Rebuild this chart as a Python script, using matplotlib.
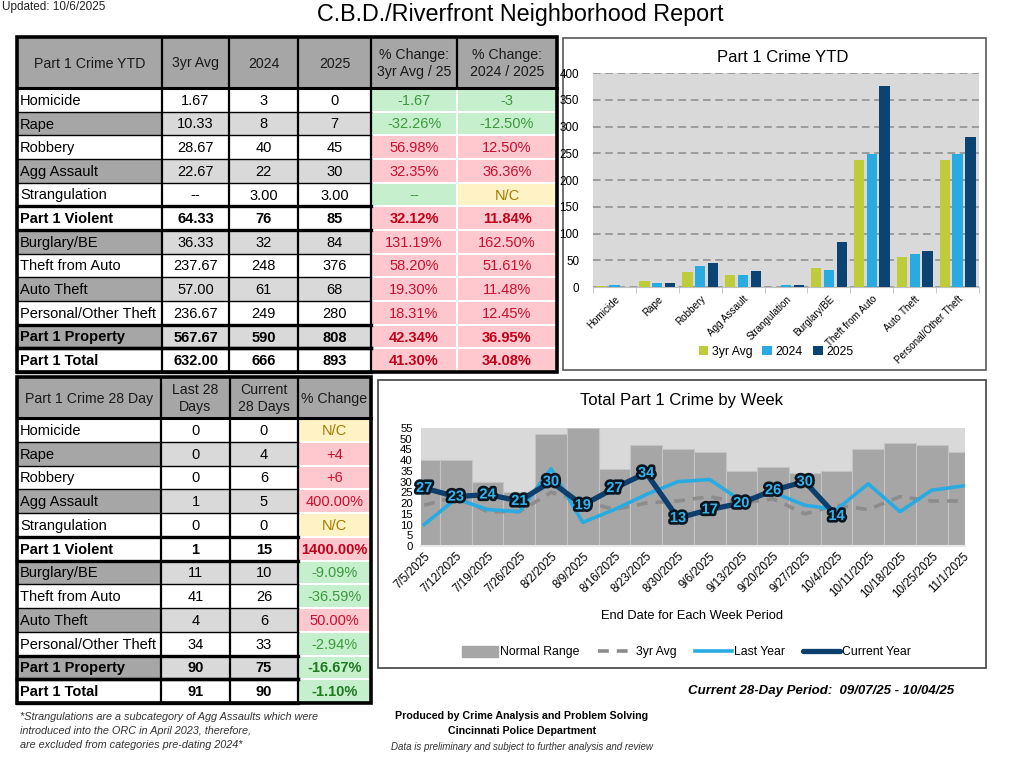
import matplotlib
matplotlib.use('Agg')
import matplotlib.pyplot as plt
import matplotlib.patheffects as pe
from matplotlib.patches import Rectangle, Patch
from matplotlib.lines import Line2D
from matplotlib import font_manager
import numpy as np

# narrow font for tables / ticks if installed
installed = {f.name for f in font_manager.fontManager.ttflist}
NARROW = 'Liberation Sans Narrow' if 'Liberation Sans Narrow' in installed else 'Liberation Sans'
plt.rcParams['font.family'] = ['Liberation Sans', 'DejaVu Sans']

# ---------------- data ----------------
crime_rows = ['Homicide', 'Rape', 'Robbery', 'Agg Assault', 'Strangulation', 'Part 1 Violent',
              'Burglary/BE', 'Theft from Auto', 'Auto Theft', 'Personal/Other Theft',
              'Part 1 Property', 'Part 1 Total']
bold_rows = ['Part 1 Violent', 'Part 1 Property', 'Part 1 Total']
shaded_rows = ['Rape', 'Agg Assault', 'Burglary/BE', 'Auto Theft', 'Part 1 Property']

# YTD table
ytd_header = ['Part 1 Crime YTD', '3yr Avg', '2024', '2025', '% Change:\n3yr Avg / 25', '% Change:\n2024 / 2025']
ytd_3yr = ['1.67', '10.33', '28.67', '22.67', '--', '64.33', '36.33', '237.67', '57.00', '236.67', '567.67', '632.00']
ytd_2024 = ['3', '8', '40', '22', '3.00', '76', '32', '248', '61', '249', '590', '666']
ytd_2025 = ['0', '7', '45', '30', '3.00', '85', '84', '376', '68', '280', '808', '893']
pct_3yr_25 = ['-1.67', '-32.26%', '56.98%', '32.35%', '--', '32.12%', '131.19%', '58.20%', '19.30%',
              '18.31%', '42.34%', '41.30%']
pct_3yr_25_status = ['g', 'g', 'r', 'r', 'g', 'r', 'r', 'r', 'r', 'r', 'r', 'r']
pct_24_25 = ['-3', '-12.50%', '12.50%', '36.36%', 'N/C', '11.84%', '162.50%', '51.61%', '11.48%',
             '12.45%', '36.95%', '34.08%']
pct_24_25_status = ['g', 'g', 'r', 'r', 'y', 'r', 'r', 'r', 'r', 'r', 'r', 'r']

# 28 day table
d28_header = ['Part 1 Crime 28 Day', 'Last 28\nDays', 'Current\n28 Days', '% Change']
last_28 = ['0', '0', '0', '1', '0', '1', '11', '41', '4', '34', '90', '91']
current_28 = ['0', '4', '6', '5', '0', '15', '10', '26', '6', '33', '75', '90']
pct_28 = ['N/C', '+4', '+6', '400.00%', 'N/C', '1400.00%', '-9.09%', '-36.59%', '50.00%', '-2.94%',
          '-16.67%', '-1.10%']
pct_28_status = ['y', 'r', 'r', 'r', 'y', 'r', 'g', 'g', 'r', 'g', 'g', 'g']

# YTD bar chart
bar_cats = ['Homicide', 'Rape', 'Robbery', 'Agg Assault', 'Strangulation', 'Burglary/BE',
            'Theft from Auto', 'Auto Theft', 'Personal/Other Theft']
bar_3yr = [1.67, 10.33, 28.67, 22.67, 0, 36.33, 237.67, 57.00, 236.67]
bar_2024 = [3, 8, 40, 22, 3, 32, 248, 61, 249]
bar_2025 = [0, 7, 45, 30, 3, 84, 376, 68, 280]

# weekly chart
weeks = ['7/5/2025', '7/12/2025', '7/19/2025', '7/26/2025', '8/2/2025', '8/9/2025', '8/16/2025',
         '8/23/2025', '8/30/2025', '9/6/2025', '9/13/2025', '9/20/2025', '9/27/2025', '10/4/2025',
         '10/11/2025', '10/18/2025', '10/25/2025', '11/1/2025']
normal_range = [40, 40, 30, 25, 52, 55, 36, 47, 45, 44, 35, 37, 34, 35, 45, 48, 47, 44]
avg_3yr_week = [19, 23, 16, 16, 25, 21, 17, 20, 21, 23, 20, 22, 15, 19, 17, 23, 21, 21]
last_year_week = [10, 22, 17, 16, 36, 11, 17, 24, 30, 31, 21, 25, 19, 17, 29, 16, 26, 28]
current_week = [27, 23, 24, 21, 30, 19, 27, 34, 13, 17, 20, 26, 30, 14]

FILL = {'g': '#c6efce', 'r': '#ffc7ce', 'y': '#fff2c4'}
TXT = {'g': '#3a9a3a', 'r': '#c8102e', 'y': '#a37a00'}
TXT_BOLD = {'g': '#1f7a1f', 'r': '#c00018', 'y': '#a37a00'}

W, H = 1009, 770
fig = plt.figure(figsize=(W / 100, H / 100), dpi=100)
bg = fig.add_axes([0, 0, 1, 1])
bg.set_xlim(0, W)
bg.set_ylim(H, 0)
bg.axis('off')


def draw_table(ax, col_x, head_y, body_bottom, header, cols, pct_cols, pct_status):
    n_rows = len(cols[0])
    n_plain = len(cols)
    ncol = n_plain + len(pct_cols)
    row_y = np.linspace(head_y[1], body_bottom, n_rows + 1)
    fs = 10.5
    for j in range(ncol):
        ax.add_patch(Rectangle((col_x[j], head_y[0]), col_x[j + 1] - col_x[j], head_y[1] - head_y[0],
                               fc='#a6a6a6', ec='none'))
        ax.text((col_x[j] + col_x[j + 1]) / 2, (head_y[0] + head_y[1]) / 2 + 1, header[j],
                ha='center', va='center', fontsize=fs - 0.3, family=NARROW, linespacing=1.3, color='#1a1a1a')
    for i in range(n_rows):
        y0, y1 = row_y[i], row_y[i + 1]
        yc = (y0 + y1) / 2 + 1
        name = cols[0][i]
        shaded = name in shaded_rows
        weight = 'bold' if name in bold_rows else 'normal'
        for j, col in enumerate(cols):
            fc = ('#a6a6a6' if j == 0 else '#d9d9d9') if shaded else 'white'
            ax.add_patch(Rectangle((col_x[j], y0), col_x[j + 1] - col_x[j], y1 - y0, fc=fc, ec='none'))
            if j == 0:
                ax.text(col_x[0] + 3, yc, col[i], ha='left', va='center', fontsize=fs,
                        family=NARROW, fontweight=weight, color='black')
            else:
                ax.text((col_x[j] + col_x[j + 1]) / 2, yc, col[i], ha='center', va='center',
                        fontsize=fs, family=NARROW, fontweight=weight, color='black')
        for k, (pc, st) in enumerate(zip(pct_cols, pct_status)):
            j = n_plain + k
            s = st[i]
            ax.add_patch(Rectangle((col_x[j] + 1, y0 + 1), col_x[j + 1] - col_x[j] - 2, y1 - y0 - 2,
                                   fc=FILL[s], ec='none'))
            tc = TXT_BOLD[s] if weight == 'bold' else TXT[s]
            ax.text((col_x[j] + col_x[j + 1]) / 2, yc, pc[i], ha='center', va='center',
                    fontsize=fs, family=NARROW, fontweight=weight, color=tc)
    x_plain = col_x[n_plain]
    # thin grid in the plain part
    for y in row_y[1:-1]:
        ax.plot([col_x[0], x_plain], [y, y], color='black', lw=1.0)
    for x in col_x[1:n_plain + 1]:
        ax.plot([x, x], [head_y[0], body_bottom], color='black', lw=1.6)
    for x in col_x[n_plain + 1:-1]:
        ax.plot([x, x], [head_y[0], head_y[1]], color='black', lw=1.6)
    # thick lines
    ax.plot([col_x[0], col_x[-1]], [head_y[1], head_y[1]], color='black', lw=2.2)
    for i, name in enumerate(cols[0]):
        if name in bold_rows:
            for y in (row_y[i], row_y[i + 1]):
                ax.plot([col_x[0], x_plain], [y, y], color='black', lw=2.4)
    ax.add_patch(Rectangle((col_x[0], head_y[0]), col_x[-1] - col_x[0], body_bottom - head_y[0],
                           fc='none', ec='black', lw=2.6))


draw_table(bg, [17, 162, 229, 298, 371, 457, 557], (37, 88), 372, ytd_header,
           [crime_rows, ytd_3yr, ytd_2024, ytd_2025], [pct_3yr_25, pct_24_25],
           [pct_3yr_25_status, pct_24_25_status])
draw_table(bg, [17, 161, 230, 298, 371], (377, 418), 703, d28_header,
           [crime_rows, last_28, current_28], [pct_28], [pct_28_status])

# titles / footer text
bg.text(2, 7, 'Updated: 10/6/2025', fontsize=8.5, ha='left', va='center', color='#222222')
bg.text(520, 15, 'C.B.D./Riverfront Neighborhood Report', fontsize=16.8, ha='center', va='center')
bg.text(688, 691, 'Current 28-Day Period:  09/07/25 - 10/04/25', fontsize=9.5, ha='left', va='center',
        fontweight='bold', fontstyle='italic', family=NARROW)
notes = ['*Strangulations are a subcategory of Agg Assaults which were',
         'introduced into the ORC in April 2023, therefore,',
         'are excluded from categories pre-dating 2024*']
for k, line in enumerate(notes):
    bg.text(20, 717 + 14 * k, line, fontsize=7.8, fontstyle='italic', family=NARROW, color='#333333',
            ha='left', va='center')
bg.text(522, 716, 'Produced by Crime Analysis and Problem Solving', fontsize=7.7, fontweight='bold',
        family=NARROW, ha='center', va='center')
bg.text(522, 731, 'Cincinnati Police Department', fontsize=7.7, fontweight='bold', family=NARROW,
        ha='center', va='center')
bg.text(522, 747, 'Data is preliminary and subject to further analysis and review', fontsize=7,
        fontstyle='italic', family=NARROW, ha='center', va='center', color='#333333')

# chart boxes
bg.add_patch(Rectangle((563, 38), 423, 332, fc='white', ec='#595959', lw=1.2))
bg.add_patch(Rectangle((378, 380), 608, 288, fc='white', ec='#404040', lw=1.2))
bg.text(783, 58, 'Part 1 Crime YTD', fontsize=12, ha='center', va='center')
bg.text(682, 401, 'Total Part 1 Crime by Week', fontsize=12, ha='center', va='center')
bg.text(692, 616, 'End Date for Each Week Period', fontsize=9.3, family=NARROW, ha='center', va='center')


def fig_rect(l, t, r, b):
    return [l / W, 1 - b / H, (r - l) / W, (b - t) / H]


# ---------------- YTD bar chart ----------------
ax1 = fig.add_axes(fig_rect(593, 73, 979, 287))
x = np.arange(len(bar_cats))
bw = 0.24
ax1.bar(x - 0.3, bar_3yr, bw, color='#bfcc3a', label='3yr Avg', zorder=3)
ax1.bar(x, bar_2024, bw, color='#29abe2', label='2024', zorder=3)
ax1.bar(x + 0.3, bar_2025, bw, color='#0b4472', label='2025', zorder=3)
ax1.set_facecolor('#d9d9d9')
ax1.set_xlim(-0.5, len(bar_cats) - 0.5)
ax1.set_ylim(0, 400)
ax1.set_yticks(np.arange(0, 401, 50))
ax1.yaxis.grid(True, color='#8c8c8c', linestyle=(0, (5, 3)), lw=1.1, zorder=1)
ax1.set_axisbelow(True)
for s in ('top', 'right', 'left'):
    ax1.spines[s].set_visible(False)
ax1.spines['bottom'].set_color('#bfbfbf')
ax1.set_xticks(x)
ax1.set_xticklabels(bar_cats, rotation=45, ha='right', rotation_mode='anchor', fontsize=7.1,
                    family=NARROW)
ax1.set_xticks(np.arange(-0.5, len(bar_cats)), minor=True)
ax1.tick_params(axis='x', which='major', length=0, pad=5)
ax1.tick_params(axis='x', which='minor', length=4, color='#bfbfbf')
ax1.tick_params(axis='y', length=0, labelsize=8.4, pad=10)
for t in ax1.get_yticklabels():
    t.set_family(NARROW)
ax1.legend(loc='center', bbox_to_anchor=(776 / W, 1 - 352 / H), bbox_transform=fig.transFigure,
           ncol=3, frameon=False, handlelength=0.8, handleheight=0.8,
           handletextpad=0.3, columnspacing=0.8, prop={'family': NARROW, 'size': 8.8})

# ---------------- weekly chart ----------------
ax2 = fig.add_axes(fig_rect(421, 428, 965, 546))
xw = np.arange(len(weeks))
ax2.set_facecolor('#d9d9d9')
ax2.bar(xw, normal_range, 1.0, color='#a6a6a6', edgecolor='#c4c4c4', lw=0.8, zorder=1)
ax2.plot(xw, avg_3yr_week, color='#8c8c8c', lw=2.6, linestyle=(0, (3, 2.2)), zorder=2)
ax2.plot(xw, last_year_week, color='#29abe2', lw=2.6, zorder=3)
xc = np.arange(len(current_week))
ax2.plot(xc, current_week, color='#0d3f6e', lw=3.8, zorder=4, solid_capstyle='round')
for xi, v in zip(xc, current_week):
    ax2.text(xi, v, str(v), ha='center', va='center', fontsize=10.5, fontweight='bold',
             color='#35b3ea', zorder=5,
             path_effects=[pe.withStroke(linewidth=3.8, foreground='#0a1520')])
ax2.set_xlim(-0.1, len(weeks) - 0.95)
ax2.set_ylim(0, 55)
ax2.set_yticks(np.arange(0, 56, 5))
for s in ('top', 'right', 'left'):
    ax2.spines[s].set_visible(False)
ax2.spines['bottom'].set_color('#e8e8e8')
ax2.spines['bottom'].set_linewidth(1.5)
ax2.set_xticks(xw)
ax2.set_xticklabels(weeks, rotation=45, ha='right', rotation_mode='anchor', fontsize=8.4, family=NARROW)
ax2.tick_params(axis='x', length=0, pad=3)
ax2.tick_params(axis='y', length=0, labelsize=8.2, pad=6)
for t in ax2.get_yticklabels():
    t.set_family(NARROW)
handles = [Patch(color='#a6a6a6'),
           Line2D([], [], color='#8c8c8c', lw=2.6, linestyle=(0, (3, 2.2))),
           Line2D([], [], color='#29abe2', lw=2.6),
           Line2D([], [], color='#0d3f6e', lw=3.8, solid_capstyle='round')]
ax2.legend(handles, ['Normal Range', '3yr Avg', 'Last Year', 'Current Year'], loc='center',
           bbox_to_anchor=(686 / W, 1 - 652 / H), bbox_transform=fig.transFigure, ncol=4,
           frameon=False, handlelength=3.0, handleheight=1.0, handletextpad=0.15, columnspacing=1.5,
           prop={'family': NARROW, 'size': 8.8})

fig.savefig('out.png', dpi=100)
